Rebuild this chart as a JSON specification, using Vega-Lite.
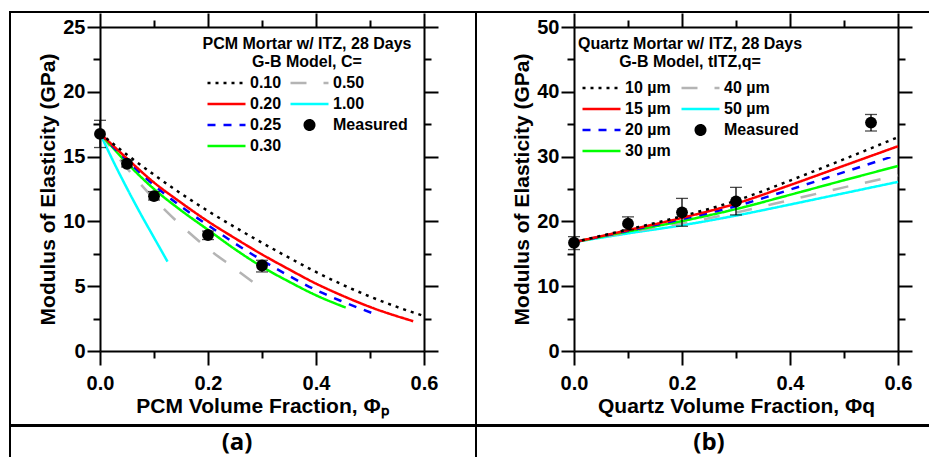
{
  "$schema": "https://vega.github.io/schema/vega-lite/v6.json",
  "padding": {"left": 9, "top": 11, "right": 0, "bottom": 0},
  "background": "white",
  "spacing": -2,
  "datasets": {
    "curvesA": [
      {"series": "1.00", "phi": 0, "E": 16.8}, {"series": "1.00", "phi": 0.025, "E": 14.6}, {"series": "1.00", "phi": 0.05, "E": 12.55}, {"series": "1.00", "phi": 0.075, "E": 10.6}, {"series": "1.00", "phi": 0.1, "E": 8.75}, {"series": "1.00", "phi": 0.125, "E": 6.9},
      {"series": "0.50", "phi": 0, "E": 16.8}, {"series": "0.50", "phi": 0.05, "E": 14.1}, {"series": "0.50", "phi": 0.1, "E": 11.75}, {"series": "0.50", "phi": 0.15, "E": 9.7}, {"series": "0.50", "phi": 0.2, "E": 7.9}, {"series": "0.50", "phi": 0.25, "E": 6.35}, {"series": "0.50", "phi": 0.293, "E": 5.0},
      {"series": "0.30", "phi": 0, "E": 16.8}, {"series": "0.30", "phi": 0.05, "E": 14.5}, {"series": "0.30", "phi": 0.1, "E": 12.5}, {"series": "0.30", "phi": 0.15, "E": 10.85}, {"series": "0.30", "phi": 0.2, "E": 9.35}, {"series": "0.30", "phi": 0.25, "E": 7.85}, {"series": "0.30", "phi": 0.3, "E": 6.5}, {"series": "0.30", "phi": 0.35, "E": 5.35}, {"series": "0.30", "phi": 0.4, "E": 4.3}, {"series": "0.30", "phi": 0.455, "E": 3.35},
      {"series": "0.25", "phi": 0, "E": 16.8}, {"series": "0.25", "phi": 0.05, "E": 14.7}, {"series": "0.25", "phi": 0.1, "E": 12.8}, {"series": "0.25", "phi": 0.15, "E": 11.15}, {"series": "0.25", "phi": 0.2, "E": 9.7}, {"series": "0.25", "phi": 0.25, "E": 8.3}, {"series": "0.25", "phi": 0.3, "E": 7.0}, {"series": "0.25", "phi": 0.35, "E": 5.8}, {"series": "0.25", "phi": 0.4, "E": 4.7}, {"series": "0.25", "phi": 0.45, "E": 3.8}, {"series": "0.25", "phi": 0.512, "E": 2.8},
      {"series": "0.20", "phi": 0, "E": 16.8}, {"series": "0.20", "phi": 0.05, "E": 14.85}, {"series": "0.20", "phi": 0.1, "E": 13.0}, {"series": "0.20", "phi": 0.15, "E": 11.45}, {"series": "0.20", "phi": 0.2, "E": 10.0}, {"series": "0.20", "phi": 0.25, "E": 8.7}, {"series": "0.20", "phi": 0.3, "E": 7.45}, {"series": "0.20", "phi": 0.35, "E": 6.3}, {"series": "0.20", "phi": 0.4, "E": 5.2}, {"series": "0.20", "phi": 0.45, "E": 4.25}, {"series": "0.20", "phi": 0.5, "E": 3.4}, {"series": "0.20", "phi": 0.58, "E": 2.3},
      {"series": "0.10", "phi": 0, "E": 16.8}, {"series": "0.10", "phi": 0.05, "E": 15.15}, {"series": "0.10", "phi": 0.1, "E": 13.6}, {"series": "0.10", "phi": 0.15, "E": 12.15}, {"series": "0.10", "phi": 0.2, "E": 10.8}, {"series": "0.10", "phi": 0.25, "E": 9.55}, {"series": "0.10", "phi": 0.3, "E": 8.35}, {"series": "0.10", "phi": 0.35, "E": 7.2}, {"series": "0.10", "phi": 0.4, "E": 6.1}, {"series": "0.10", "phi": 0.45, "E": 5.1}, {"series": "0.10", "phi": 0.5, "E": 4.2}, {"series": "0.10", "phi": 0.55, "E": 3.4}, {"series": "0.10", "phi": 0.6, "E": 2.7}
    ],
    "measA": [
      {"series": "Measured", "phi": 0, "E": 16.75, "lo": 15.7, "hi": 17.8},
      {"series": "Measured", "phi": 0.05, "E": 14.45, "lo": 14.2, "hi": 14.7},
      {"series": "Measured", "phi": 0.1, "E": 11.95, "lo": 11.65, "hi": 12.3},
      {"series": "Measured", "phi": 0.2, "E": 8.95, "lo": 8.6, "hi": 9.25},
      {"series": "Measured", "phi": 0.3, "E": 6.6, "lo": 6.1, "hi": 7.0}
    ],
    "curvesB": [
      {"series": "50 µm", "phi": 0, "E": 16.8}, {"series": "50 µm", "phi": 0.1, "E": 18.15}, {"series": "50 µm", "phi": 0.2, "E": 19.4}, {"series": "50 µm", "phi": 0.3, "E": 20.9}, {"series": "50 µm", "phi": 0.4, "E": 22.6}, {"series": "50 µm", "phi": 0.5, "E": 24.35}, {"series": "50 µm", "phi": 0.6, "E": 26.1},
      {"series": "40 µm", "phi": 0, "E": 16.8}, {"series": "40 µm", "phi": 0.1, "E": 18.3}, {"series": "40 µm", "phi": 0.2, "E": 19.7}, {"series": "40 µm", "phi": 0.3, "E": 21.35}, {"series": "40 µm", "phi": 0.4, "E": 23.3}, {"series": "40 µm", "phi": 0.5, "E": 25.25}, {"series": "40 µm", "phi": 0.6, "E": 27.1},
      {"series": "30 µm", "phi": 0, "E": 16.8}, {"series": "30 µm", "phi": 0.1, "E": 18.45}, {"series": "30 µm", "phi": 0.2, "E": 20.05}, {"series": "30 µm", "phi": 0.3, "E": 21.9}, {"series": "30 µm", "phi": 0.4, "E": 24.1}, {"series": "30 µm", "phi": 0.5, "E": 26.35}, {"series": "30 µm", "phi": 0.6, "E": 28.55},
      {"series": "20 µm", "phi": 0, "E": 16.8}, {"series": "20 µm", "phi": 0.1, "E": 18.55}, {"series": "20 µm", "phi": 0.2, "E": 20.35}, {"series": "20 µm", "phi": 0.3, "E": 22.35}, {"series": "20 µm", "phi": 0.4, "E": 24.9}, {"series": "20 µm", "phi": 0.5, "E": 27.6}, {"series": "20 µm", "phi": 0.6, "E": 30.3},
      {"series": "15 µm", "phi": 0, "E": 16.8}, {"series": "15 µm", "phi": 0.1, "E": 18.65}, {"series": "15 µm", "phi": 0.2, "E": 20.55}, {"series": "15 µm", "phi": 0.3, "E": 22.75}, {"series": "15 µm", "phi": 0.4, "E": 25.6}, {"series": "15 µm", "phi": 0.5, "E": 28.6}, {"series": "15 µm", "phi": 0.6, "E": 31.6},
      {"series": "10 µm", "phi": 0, "E": 16.8}, {"series": "10 µm", "phi": 0.1, "E": 18.75}, {"series": "10 µm", "phi": 0.2, "E": 20.8}, {"series": "10 µm", "phi": 0.3, "E": 23.2}, {"series": "10 µm", "phi": 0.4, "E": 26.3}, {"series": "10 µm", "phi": 0.5, "E": 29.6}, {"series": "10 µm", "phi": 0.6, "E": 33.0}
    ],
    "measB": [
      {"series": "Measured", "phi": 0, "E": 16.7, "lo": 15.65, "hi": 17.65},
      {"series": "Measured", "phi": 0.1, "E": 19.65, "lo": 18.7, "hi": 20.7},
      {"series": "Measured", "phi": 0.2, "E": 21.4, "lo": 19.25, "hi": 23.55},
      {"series": "Measured", "phi": 0.3, "E": 23.1, "lo": 21.0, "hi": 25.25},
      {"series": "Measured", "phi": 0.55, "E": 35.25, "lo": 33.95, "hi": 36.5}
    ],
    "captions": [
      {"panel": "a", "cap": "(a)"},
      {"panel": "b", "cap": "(b)"}
    ]
  },
  "vconcat": [
    {
      "spacing": 0,
      "bounds": "flush",
      "resolve": {"scale": {"color": "independent", "strokeDash": "independent"}, "legend": {"color": "independent", "strokeDash": "independent"}},
      "hconcat": [
        {
          "width": 466,
          "height": 413,
          "view": {"stroke": "black", "strokeWidth": 2},
          "resolve": {"axis": {"x": "independent", "y": "independent"}},
          "layer": [
            {
              "data": {"name": "curvesA"},
              "mark": {"type": "line", "strokeWidth": 2.5, "interpolate": "monotone"},
              "encoding": {
                "x": {"field": "phi", "type": "quantitative", "scale": {"domain": [0, 0.6], "range": [90, 414], "nice": false, "zero": false},
                  "axis": {"orient": "bottom", "offset": -74, "values": [0, 0.2, 0.4, 0.6], "format": ".1f", "tickSize": 14, "labelPadding": 8, "title": "PCM Volume Fraction, Φₚ", "titlePadding": 2}},
                "y": {"field": "E", "type": "quantitative", "scale": {"domain": [0, 25], "range": [339, 15], "nice": false, "zero": false},
                  "axis": {"orient": "left", "offset": -90, "values": [0, 5, 10, 15, 20, 25], "format": "d", "tickSize": 13, "labelPadding": 2, "title": "Modulus of Elasticity (GPa)", "titlePadding": 4}},
                "color": {"field": "series", "type": "nominal",
                  "scale": {"domain": ["0.10", "0.20", "0.25", "0.30", "0.50", "1.00", "Measured"], "range": ["#000000", "#ff0000", "#0000ff", "#00ff00", "#b4b4b4", "#00ffff", "#000000"]},
                  "legend": {"title": ["PCM Mortar w/ ITZ, 28 Days", "G-B Model, C="], "legendX": 193, "legendY": 24, "titlePadding": 5, "columnPadding": 7,
                    "symbolType": {"expr": "datum.value === 'Measured' ? 'M -0.25 0 A 0.25 0.25 0 1 0 0.25 0 A 0.25 0.25 0 1 0 -0.25 0 Z' : 'stroke'"},
                    "symbolFillColor": {"expr": "datum.value === 'Measured' ? 'black' : 'transparent'"}}},
                "strokeDash": {"field": "series", "type": "nominal",
                  "scale": {"domain": ["0.10", "0.20", "0.25", "0.30", "0.50", "1.00", "Measured"], "range": [[3, 5], [1, 0], [8, 8], [1, 0], [16, 17], [1, 0], [1, 0]]}}
              }
            },
            {
              "data": {"name": "measA"},
              "mark": {"type": "rule", "color": "black", "strokeWidth": 1.3},
              "encoding": {
                "x": {"field": "phi", "type": "quantitative", "scale": {"domain": [0, 0.6], "range": [90, 414], "nice": false, "zero": false},
                  "axis": {"orient": "top", "offset": -15, "values": [0, 0.2, 0.4, 0.6], "labels": false, "tickSize": 14, "title": null}},
                "y": {"field": "lo", "type": "quantitative", "scale": {"domain": [0, 25], "range": [339, 15], "nice": false, "zero": false},
                  "axis": {"orient": "right", "offset": -52, "values": [0, 5, 10, 15, 20, 25], "labels": false, "tickSize": 14, "title": null}},
                "y2": {"field": "hi"}
              }
            },
            {
              "data": {"name": "measA"},
              "mark": {"type": "tick", "orient": "horizontal", "color": "black", "size": 12, "thickness": 1.3},
              "encoding": {
                "x": {"field": "phi", "type": "quantitative", "scale": {"domain": [0, 0.6], "range": [90, 414], "nice": false, "zero": false},
                  "axis": {"orient": "bottom", "offset": -74, "values": [0.1, 0.3, 0.5], "labels": false, "domain": false, "tickSize": 7, "title": null}},
                "y": {"field": "lo", "type": "quantitative", "scale": {"domain": [0, 25], "range": [339, 15], "nice": false, "zero": false},
                  "axis": {"orient": "left", "offset": -90, "values": [2.5, 7.5, 12.5, 17.5, 22.5], "labels": false, "domain": false, "tickSize": 7, "title": null}}
              }
            },
            {
              "data": {"name": "measA"},
              "mark": {"type": "tick", "orient": "horizontal", "color": "black", "size": 12, "thickness": 1.3},
              "encoding": {
                "x": {"field": "phi", "type": "quantitative", "scale": {"domain": [0, 0.6], "range": [90, 414], "nice": false, "zero": false},
                  "axis": {"orient": "top", "offset": -15, "values": [0.1, 0.3, 0.5], "labels": false, "domain": false, "tickSize": 7, "title": null}},
                "y": {"field": "hi", "type": "quantitative", "scale": {"domain": [0, 25], "range": [339, 15], "nice": false, "zero": false},
                  "axis": {"orient": "right", "offset": -52, "values": [2.5, 7.5, 12.5, 17.5, 22.5], "labels": false, "domain": false, "tickSize": 7, "title": null}}
              }
            },
            {
              "data": {"name": "measA"},
              "mark": {"type": "point", "filled": true, "size": 140, "opacity": 1},
              "encoding": {
                "x": {"field": "phi", "type": "quantitative", "scale": {"domain": [0, 0.6], "range": [90, 414], "nice": false, "zero": false}, "axis": null},
                "y": {"field": "E", "type": "quantitative", "scale": {"domain": [0, 25], "range": [339, 15], "nice": false, "zero": false}, "axis": null},
                "color": {"field": "series", "type": "nominal",
                  "scale": {"domain": ["0.10", "0.20", "0.25", "0.30", "0.50", "1.00", "Measured"], "range": ["#000000", "#ff0000", "#0000ff", "#00ff00", "#b4b4b4", "#00ffff", "#000000"]}}
              }
            }
          ]
        },
        {
          "width": 466,
          "height": 413,
          "view": {"stroke": "black", "strokeWidth": 2},
          "resolve": {"axis": {"x": "independent", "y": "independent"}},
          "layer": [
            {
              "data": {"name": "curvesB"},
              "mark": {"type": "line", "strokeWidth": 2.5, "interpolate": "monotone"},
              "encoding": {
                "x": {"field": "phi", "type": "quantitative", "scale": {"domain": [0, 0.6], "range": [98, 422], "nice": false, "zero": false},
                  "axis": {"orient": "bottom", "offset": -74, "values": [0, 0.2, 0.4, 0.6], "format": ".1f", "tickSize": 14, "labelPadding": 8, "title": "Quartz Volume Fraction, Φq", "titlePadding": 2}},
                "y": {"field": "E", "type": "quantitative", "scale": {"domain": [0, 50], "range": [339, 15], "nice": false, "zero": false},
                  "axis": {"orient": "left", "offset": -98, "values": [0, 10, 20, 30, 40, 50], "format": "d", "tickSize": 13, "labelPadding": 2, "title": "Modulus of Elasticity (GPa)", "titlePadding": 4}},
                "color": {"field": "series", "type": "nominal",
                  "scale": {"domain": ["10 µm", "15 µm", "20 µm", "30 µm", "40 µm", "50 µm", "Measured"], "range": ["#000000", "#ff0000", "#0000ff", "#00ff00", "#b4b4b4", "#00ffff", "#000000"]},
                  "legend": {"title": ["Quartz Mortar w/ ITZ, 28 Days", "G-B Model, tITZ,q="], "legendX": 102, "legendY": 24, "titlePadding": 10, "columnPadding": 9,
                    "symbolType": {"expr": "datum.value === 'Measured' ? 'M -0.25 0 A 0.25 0.25 0 1 0 0.25 0 A 0.25 0.25 0 1 0 -0.25 0 Z' : 'stroke'"},
                    "symbolFillColor": {"expr": "datum.value === 'Measured' ? 'black' : 'transparent'"}}},
                "strokeDash": {"field": "series", "type": "nominal",
                  "scale": {"domain": ["10 µm", "15 µm", "20 µm", "30 µm", "40 µm", "50 µm", "Measured"], "range": [[3, 5], [1, 0], [8, 8], [1, 0], [16, 17], [1, 0], [1, 0]]}}
              }
            },
            {
              "data": {"name": "measB"},
              "mark": {"type": "rule", "color": "black", "strokeWidth": 1.3},
              "encoding": {
                "x": {"field": "phi", "type": "quantitative", "scale": {"domain": [0, 0.6], "range": [98, 422], "nice": false, "zero": false},
                  "axis": {"orient": "top", "offset": -15, "values": [0, 0.2, 0.4, 0.6], "labels": false, "tickSize": 14, "title": null}},
                "y": {"field": "lo", "type": "quantitative", "scale": {"domain": [0, 50], "range": [339, 15], "nice": false, "zero": false},
                  "axis": {"orient": "right", "offset": -44, "values": [0, 10, 20, 30, 40, 50], "labels": false, "tickSize": 14, "title": null}},
                "y2": {"field": "hi"}
              }
            },
            {
              "data": {"name": "measB"},
              "mark": {"type": "tick", "orient": "horizontal", "color": "black", "size": 12, "thickness": 1.3},
              "encoding": {
                "x": {"field": "phi", "type": "quantitative", "scale": {"domain": [0, 0.6], "range": [98, 422], "nice": false, "zero": false},
                  "axis": {"orient": "bottom", "offset": -74, "values": [0.1, 0.3, 0.5], "labels": false, "domain": false, "tickSize": 7, "title": null}},
                "y": {"field": "lo", "type": "quantitative", "scale": {"domain": [0, 50], "range": [339, 15], "nice": false, "zero": false},
                  "axis": {"orient": "left", "offset": -98, "values": [5, 15, 25, 35, 45], "labels": false, "domain": false, "tickSize": 7, "title": null}}
              }
            },
            {
              "data": {"name": "measB"},
              "mark": {"type": "tick", "orient": "horizontal", "color": "black", "size": 12, "thickness": 1.3},
              "encoding": {
                "x": {"field": "phi", "type": "quantitative", "scale": {"domain": [0, 0.6], "range": [98, 422], "nice": false, "zero": false},
                  "axis": {"orient": "top", "offset": -15, "values": [0.1, 0.3, 0.5], "labels": false, "domain": false, "tickSize": 7, "title": null}},
                "y": {"field": "hi", "type": "quantitative", "scale": {"domain": [0, 50], "range": [339, 15], "nice": false, "zero": false},
                  "axis": {"orient": "right", "offset": -44, "values": [5, 15, 25, 35, 45], "labels": false, "domain": false, "tickSize": 7, "title": null}}
              }
            },
            {
              "data": {"name": "measB"},
              "mark": {"type": "point", "filled": true, "size": 140, "opacity": 1},
              "encoding": {
                "x": {"field": "phi", "type": "quantitative", "scale": {"domain": [0, 0.6], "range": [98, 422], "nice": false, "zero": false}, "axis": null},
                "y": {"field": "E", "type": "quantitative", "scale": {"domain": [0, 50], "range": [339, 15], "nice": false, "zero": false}, "axis": null},
                "color": {"field": "series", "type": "nominal",
                  "scale": {"domain": ["10 µm", "15 µm", "20 µm", "30 µm", "40 µm", "50 µm", "Measured"], "range": ["#000000", "#ff0000", "#0000ff", "#00ff00", "#b4b4b4", "#00ffff", "#000000"]}}
              }
            }
          ]
        }
      ]
    },
    {
      "spacing": 0,
      "bounds": "flush",
      "hconcat": [
        {
          "width": 466,
          "height": 40,
          "view": {"stroke": "black", "strokeWidth": 2},
          "data": {"name": "captions"},
          "transform": [{"filter": "datum.panel === 'a'"}],
          "mark": {"type": "text", "font": "Open Sans", "fontWeight": "bold", "fontSize": 24, "baseline": "middle", "align": "center", "color": "black", "dx": -6, "dy": -3},
          "encoding": {"text": {"field": "cap"}}
        },
        {
          "width": 466,
          "height": 40,
          "view": {"stroke": "black", "strokeWidth": 2},
          "data": {"name": "captions"},
          "transform": [{"filter": "datum.panel === 'b'"}],
          "mark": {"type": "text", "font": "Open Sans", "fontWeight": "bold", "fontSize": 24, "baseline": "middle", "align": "center", "color": "black", "dy": -3},
          "encoding": {"text": {"field": "cap"}}
        }
      ]
    }
  ],
  "config": {
    "font": "Liberation Sans",
    "axis": {
      "domainColor": "black", "domainWidth": 2, "tickColor": "black", "tickWidth": 2,
      "labelColor": "black", "labelFont": "Liberation Sans", "labelFontWeight": "bold", "labelFontSize": 20,
      "titleColor": "black", "titleFont": "Liberation Sans", "titleFontWeight": "bold", "titleFontSize": 21,
      "grid": false, "labelFlush": false, "labelOverlap": false
    },
    "legend": {
      "orient": "none", "direction": "vertical", "columns": 2, "padding": 0,
      "symbolSize": 1444, "symbolStrokeWidth": 2.5, "clipHeight": 16,
      "rowPadding": 5, "labelOffset": 3,
      "labelFont": "Liberation Sans", "labelFontWeight": "bold", "labelFontSize": 16, "labelColor": "black", "labelLimit": 300,
      "titleFont": "Liberation Sans", "titleFontWeight": "bold", "titleFontSize": 16, "titleColor": "black",
      "titleLineHeight": 18, "titleAlign": "center", "titleAnchor": "middle", "titleLimit": 400
    }
  }
}
